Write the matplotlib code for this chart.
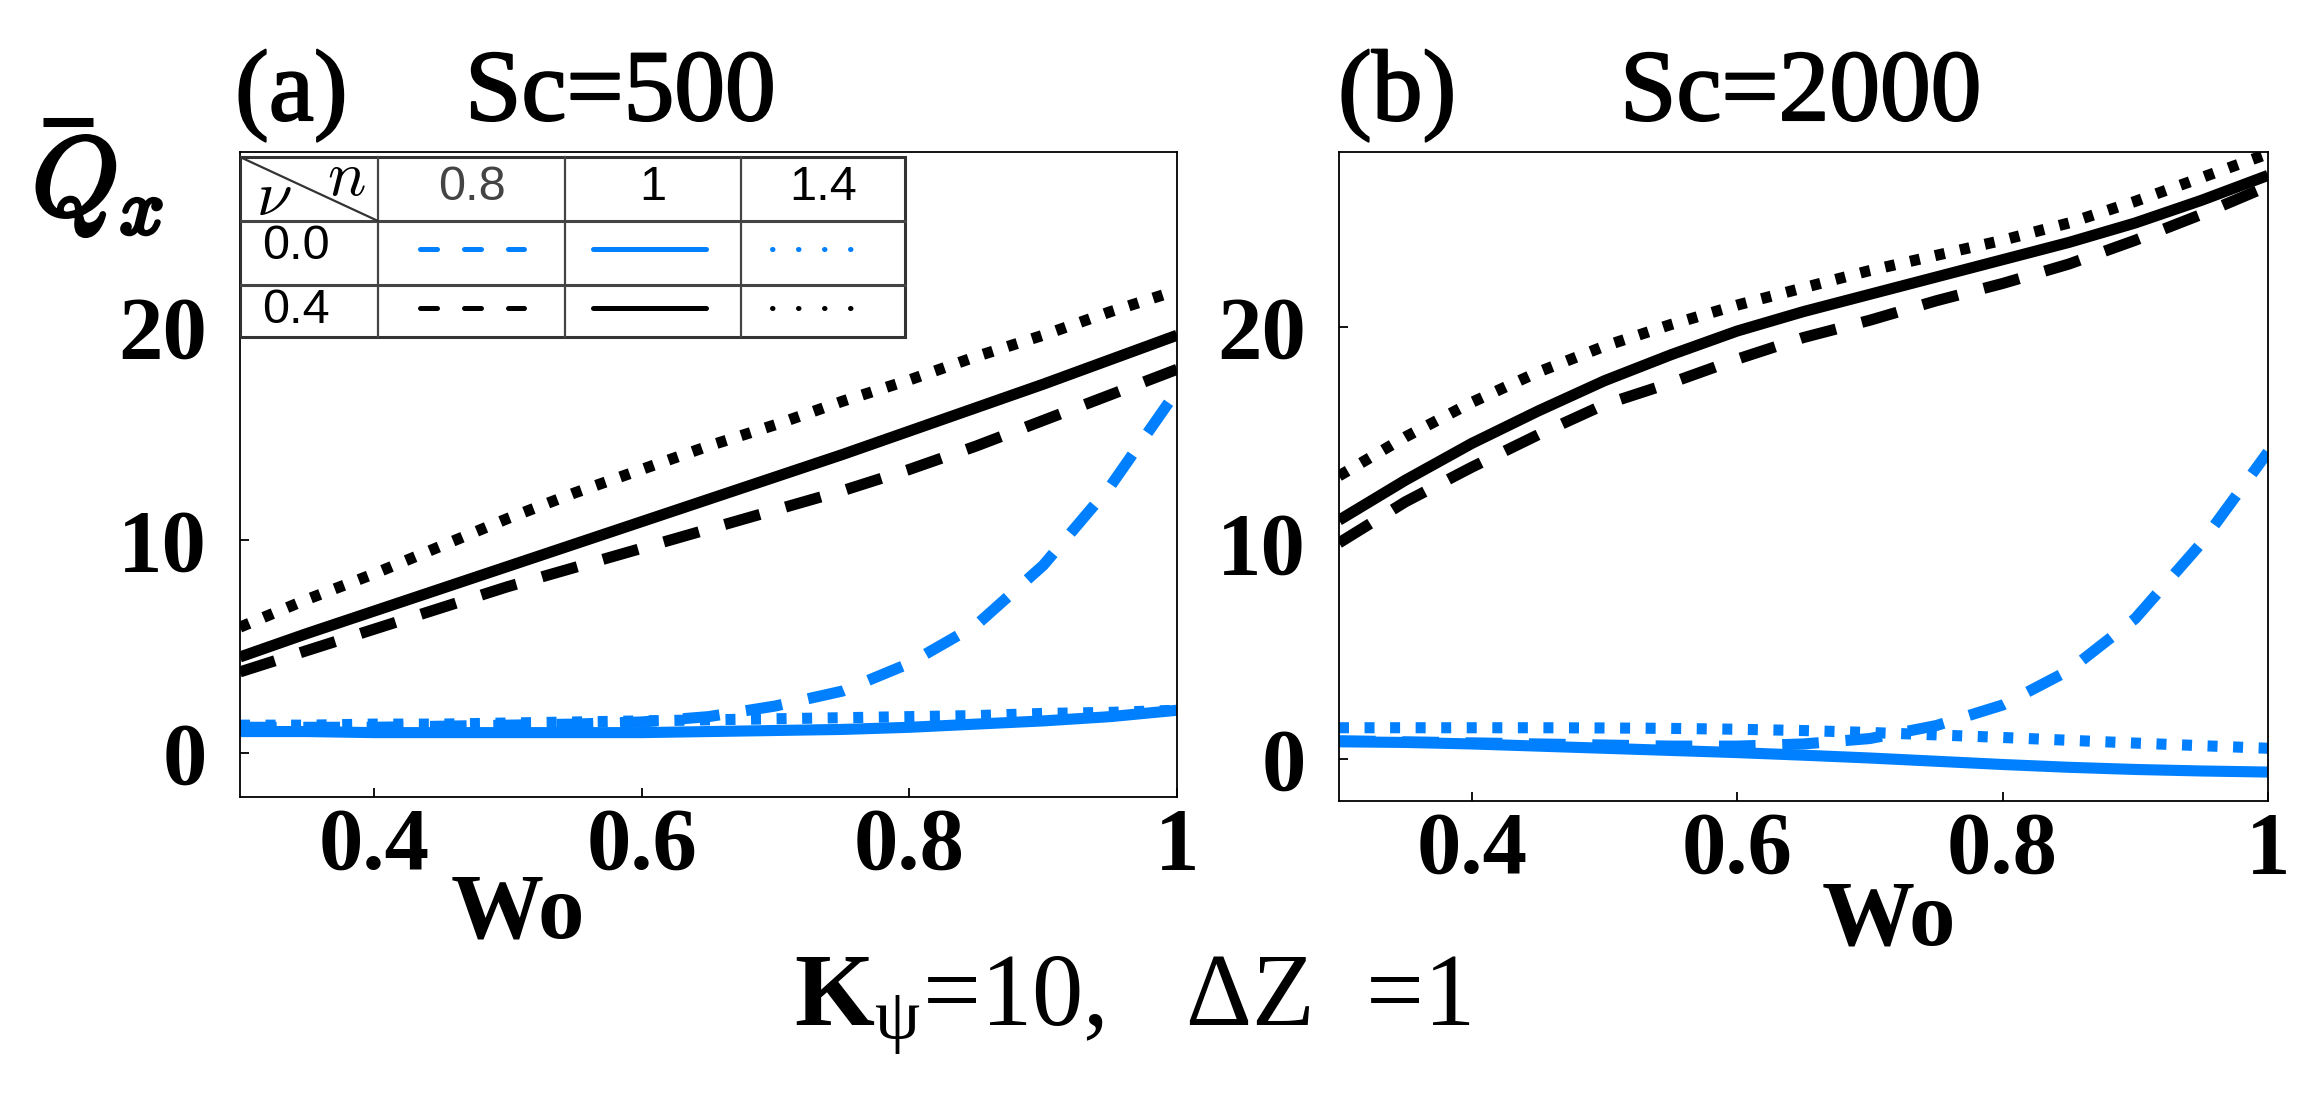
import numpy as np
import matplotlib.pyplot as plt
import matplotlib.patheffects as pe
from matplotlib.patches import Rectangle
from matplotlib.lines import Line2D

plt.rcParams['font.family'] = ['Liberation Serif', 'DejaVu Serif']
plt.rcParams['mathtext.fontset'] = 'custom'
plt.rcParams['mathtext.rm'] = 'Liberation Serif'
plt.rcParams['mathtext.it'] = 'Liberation Serif:italic'
plt.rcParams['mathtext.bf'] = 'Liberation Serif:bold'

# Wo values (x axis)
wo = [0.30, 0.35, 0.40, 0.45, 0.50, 0.55, 0.60, 0.65, 0.70, 0.75, 0.80, 0.85, 0.90, 0.95, 1.00]

# (a) Sc=500, Q_x
a_nu0_n08 = [1.2, 1.2, 1.2, 1.25, 1.3, 1.35, 1.45, 1.7, 2.2, 2.9, 4.2, 6.0, 8.8, 12.5, 17.0]
a_nu0_n1 = [1.0, 1.0, 0.95, 0.95, 0.95, 0.95, 0.95, 1.0, 1.05, 1.1, 1.2, 1.35, 1.5, 1.7, 2.0]
a_nu0_n14 = [1.3, 1.3, 1.35, 1.35, 1.4, 1.45, 1.5, 1.55, 1.6, 1.65, 1.7, 1.75, 1.85, 1.9, 2.0]
a_nu04_n08 = [3.8, 4.8, 5.8, 6.8, 7.8, 8.7, 9.6, 10.5, 11.4, 12.3, 13.3, 14.4, 15.6, 16.8, 18.0]
a_nu04_n1 = [4.5, 5.6, 6.65, 7.7, 8.75, 9.8, 10.85, 11.9, 12.95, 14.0, 15.1, 16.2, 17.3, 18.45, 19.6]
a_nu04_n14 = [5.9, 7.2, 8.4, 9.7, 11.0, 12.2, 13.3, 14.4, 15.4, 16.5, 17.5, 18.6, 19.6, 20.7, 21.7]

# (b) Sc=2000
b_nu0_n08 = [0.85, 0.8, 0.75, 0.7, 0.65, 0.6, 0.6, 0.7, 0.95, 1.55, 2.5, 4.1, 6.5, 10.0, 14.2]
b_nu0_n1 = [0.8, 0.77, 0.7, 0.6, 0.5, 0.4, 0.3, 0.18, 0.05, -0.1, -0.25, -0.38, -0.48, -0.55, -0.6]
b_nu0_n14 = [1.45, 1.45, 1.45, 1.45, 1.44, 1.42, 1.38, 1.32, 1.23, 1.12, 1.0, 0.87, 0.74, 0.62, 0.5]
b_nu04_n08 = [10.0, 11.9, 13.5, 15.0, 16.4, 17.4, 18.5, 19.5, 20.3, 21.2, 22.0, 22.9, 24.0, 25.2, 26.5]
b_nu04_n1 = [11.05, 12.9, 14.6, 16.1, 17.5, 18.7, 19.8, 20.7, 21.5, 22.3, 23.1, 23.9, 24.8, 25.85, 27.0]
b_nu04_n14 = [13.1, 14.9, 16.5, 17.9, 19.1, 20.1, 21.0, 21.8, 22.6, 23.3, 24.0, 24.8, 25.8, 26.9, 28.0]

titles = ['Sc=500', 'Sc=2000']
labels = ['(a)', '(b)']
n_labels = ['0.8', '1', '1.4']
nu_labels = ['0.0', '0.4']

blue = '#0080ff'
dash = (3.3, 2.4)
dot = (0.9, 1.4)
styles = [(blue, dash), (blue, None), (blue, dot), ('black', dash), ('black', None), ('black', dot)]

fig = plt.figure(figsize=(23.23, 10.94), dpi=100)
ax_a = fig.add_axes([0.1033, 0.2715, 0.4034, 0.5896])
ax_b = fig.add_axes([0.5764, 0.2678, 0.3999, 0.5932])

panels = [
    (ax_a, [a_nu0_n08, a_nu0_n1, a_nu0_n14, a_nu04_n08, a_nu04_n1, a_nu04_n14], (-2.07, 28.2)),
    (ax_b, [b_nu0_n08, b_nu0_n1, b_nu0_n14, b_nu04_n08, b_nu04_n1, b_nu04_n14], (-1.94, 28.08)),
]

for ax, series, ylim in panels:
    # draw black first so the blue ones sit on top like the original
    for (color, dashes), q in list(zip(styles, series))[::-1]:
        line, = ax.plot(wo, q, color=color, lw=8, solid_capstyle='butt', dash_capstyle='butt')
        if dashes is not None:
            line.set_dashes(dashes)
    ax.set_xlim(0.3, 1.0)
    ax.set_ylim(*ylim)
    ax.set_xticks([0.4, 0.6, 0.8, 1.0])
    ax.set_xticklabels(['0.4', '0.6', '0.8', '1'])
    ax.set_yticks([0, 10, 20])
    ax.tick_params(direction='in', length=6.5, width=1.3, labelsize=64)
    ax.tick_params(axis='x', pad=7)
    ax.tick_params(axis='y', pad=24)
    for lab in ax.get_xticklabels() + ax.get_yticklabels():
        lab.set_fontweight('bold')
    for sp in ax.spines.values():
        sp.set_linewidth(1.3)

# panel titles, slightly thickened
thick = [pe.withStroke(linewidth=1.5, foreground='black')]
for i, ax in enumerate([ax_a, ax_b]):
    x0 = [0.1012, 0.5760][i]
    x1 = [0.2002, 0.6974][i]
    fig.text(x0, 0.8903, labels[i], fontsize=73, va='baseline', ha='left', path_effects=thick)
    fig.text(x1, 0.8903, titles[i], fontsize=73, va='baseline', ha='left', path_effects=thick)

# y label: Q_x with a bar drawn above it, set higher than mathtext would put it
fig.text(0.0138, 0.8035, r'$Q_x$', fontsize=80, math_fontfamily='cm', va='baseline', ha='left',
         path_effects=[pe.withStroke(linewidth=3, foreground='black')])
fig.add_artist(Line2D([0.0185, 0.0400], [0.8885, 0.8885], transform=fig.transFigure,
                      color='black', lw=6.5, solid_capstyle='butt'))

fig.text(0.2230, 0.1435, 'Wo', fontsize=67, fontweight='bold', ha='center', va='baseline')
fig.text(0.8132, 0.1370, 'Wo', fontsize=67, fontweight='bold', ha='center', va='baseline')
fig.text(0.4877, 0.0622, r'$\mathbf{K}_{\mathrm{\psi}}$=10,   ΔZ  =1', fontsize=74,
         ha='center', va='baseline')

# legend table inside panel (a)
cols = [0.0, 0.1473, 0.3469, 0.5347, 0.7097]
rows = [0.9922, 0.8930, 0.7938, 0.7132]
tr = ax_a.transAxes
ax_a.add_patch(Rectangle((cols[0], rows[-1]), cols[-1] - cols[0], rows[0] - rows[-1],
                         transform=tr, facecolor='white', edgecolor='#333333', lw=2.2, zorder=10))
for xc in cols[1:-1]:
    ax_a.plot([xc, xc], [rows[-1], rows[0]], transform=tr, color='#444444', lw=1.6, zorder=11)
for yr in rows[1:-1]:
    ax_a.plot([cols[0], cols[-1]], [yr, yr], transform=tr, color='#444444', lw=2.2, zorder=11)
ax_a.plot([cols[0], cols[1]], [rows[0], rows[1]], transform=tr, color='#333333', lw=1.6, zorder=11)
ax_a.text(0.1131, 0.9333, r'$n$', transform=tr, fontsize=46, math_fontfamily='cm',
          ha='center', va='baseline', zorder=12)
ax_a.text(0.0363, 0.9023, r'$\nu$', transform=tr, fontsize=46, math_fontfamily='cm',
          ha='center', va='baseline', zorder=12)

head_colors = ['#444444', 'black', 'black']
for i, lab in enumerate(n_labels):
    ax_a.text((cols[i + 1] + cols[i + 2]) / 2, 0.945, lab, transform=tr, fontsize=35,
              family='Liberation Sans', color=head_colors[i], ha='center', va='center', zorder=12)
row_y = [0.853, 0.754]
for j, lab in enumerate(nu_labels):
    ax_a.text(0.0235, row_y[j], lab, transform=tr, fontsize=35, family='Liberation Sans',
              ha='left', va='center', zorder=12)

sample_x = [(0.192, 0.303), (0.377, 0.497), (0.568, 0.676)]
sample_y = [0.850, 0.758]
legend_dash = (3.4, 5.4)
legend_dot = (0.1, 5.1)
for k, (color, dashes) in enumerate(styles):
    j, i = divmod(k, 3)
    ln, = ax_a.plot(sample_x[i], [sample_y[j]] * 2, transform=tr, color=color, lw=3.6,
                    solid_capstyle='round', dash_capstyle='round', zorder=12)
    if dashes is dash:
        ln.set_dashes(legend_dash)
    elif dashes is dot:
        ln.set_dashes(legend_dot)

fig.savefig('out.png', dpi=100)
